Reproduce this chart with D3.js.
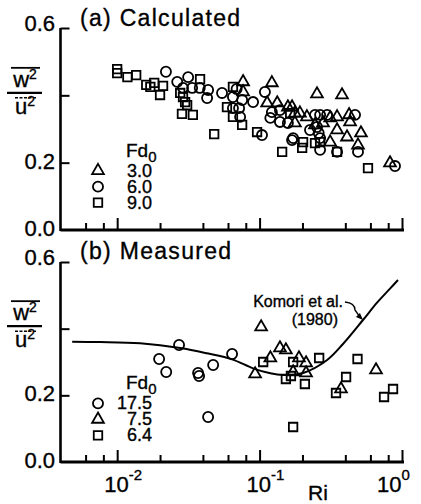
<!DOCTYPE html>
<html>
<head>
<meta charset="utf-8">
<script src="https://cdn.jsdelivr.net/npm/d3@7"></script>
<style>
    body { margin: 0; background: #fff; }
    svg { display: block; font-family: "Liberation Sans", Arial, sans-serif; }
    text { stroke: #000; stroke-width: 0.35px; }
</style>
</head>
<body>
<svg id="chart" width="421" height="504"></svg>
<script>
// ---- data (Ri, w2/u2) ----
const calcFd3 = [
    [0.0766, 0.44], [0.122, 0.437], [0.0766, 0.41], [0.113, 0.377], [0.133, 0.377],
    [0.158, 0.365], [0.169, 0.365], [0.177, 0.347], [0.192, 0.347], [0.215, 0.336],
    [0.177, 0.318], [0.245, 0.312], [0.279, 0.318], [0.313, 0.333], [0.35, 0.336],
    [0.425, 0.342], [0.432, 0.321], [0.35, 0.297], [0.411, 0.276], [0.515, 0.288],
    [0.491, 0.252], [0.313, 0.261], [0.253, 0.404], [0.379, 0.401], [0.824, 0.199]
];
const calcFd6 = [
    [0.022, 0.47], [0.0264, 0.44], [0.0315, 0.454], [0.029, 0.422], [0.0336, 0.422],
    [0.038, 0.422], [0.0428, 0.392], [0.0435, 0.416], [0.0545, 0.407], [0.065, 0.395],
    [0.0754, 0.386], [0.09, 0.38], [0.0718, 0.362], [0.065, 0.362], [0.069, 0.419],
    [0.073, 0.336], [0.109, 0.41], [0.122, 0.35], [0.139, 0.321], [0.119, 0.333],
    [0.104, 0.282], [0.169, 0.267], [0.139, 0.356], [0.158, 0.318], [0.245, 0.342],
    [0.266, 0.342], [0.298, 0.342], [0.468, 0.342], [0.253, 0.306], [0.266, 0.273],
    [0.26, 0.288], [0.266, 0.238], [0.35, 0.232], [0.491, 0.232], [0.172, 0.273],
    [0.226, 0.297], [0.893, 0.19]
];
const calcFd9 = [
    [0.01, 0.478], [0.01, 0.466], [0.0118, 0.454], [0.0136, 0.46], [0.016, 0.431],
    [0.0171, 0.425], [0.0182, 0.437], [0.02, 0.401], [0.021, 0.428], [0.0277, 0.407],
    [0.029, 0.395], [0.03, 0.38], [0.031, 0.371], [0.0285, 0.345], [0.034, 0.342],
    [0.0382, 0.448], [0.048, 0.285], [0.059, 0.365], [0.065, 0.425], [0.065, 0.336],
    [0.0754, 0.312], [0.096, 0.291], [0.144, 0.232], [0.164, 0.347], [0.199, 0.244],
    [0.202, 0.261], [0.245, 0.258], [0.266, 0.261], [0.35, 0.232], [0.577, 0.184]
];
const measFd175 = [
    [0.0197, 0.309], [0.0221, 0.27], [0.0272, 0.351], [0.037, 0.267], [0.0376, 0.258],
    [0.0472, 0.291], [0.0641, 0.324], [0.0435, 0.135]
];
const measFd75 = [
    [0.1025, 0.405], [0.093, 0.264], [0.119, 0.312], [0.139, 0.342], [0.153, 0.336],
    [0.189, 0.312], [0.212, 0.297], [0.172, 0.27], [0.212, 0.267], [0.373, 0.219],
    [0.657, 0.276]
];
const measFd64 = [
    [0.106, 0.3], [0.172, 0.3], [0.153, 0.249], [0.166, 0.258], [0.208, 0.234],
    [0.262, 0.312], [0.487, 0.309], [0.405, 0.255], [0.344, 0.207], [0.748, 0.195],
    [0.865, 0.219], [0.172, 0.105]
];
// Komori et al. (1980)
const komori = [
    [0.00483, 0.361], [0.0076, 0.36], [0.0145, 0.356], [0.0277, 0.342], [0.0428, 0.326],
    [0.0641, 0.308], [0.09, 0.281], [0.119, 0.266], [0.146, 0.261], [0.202, 0.267],
    [0.298, 0.306], [0.385, 0.354], [0.532, 0.426], [0.668, 0.478], [0.824, 0.52],
    [0.937, 0.546]
];
const komoriArrowAt = [0.532, 0.426];

// ticks
const majorRi = [0.01, 0.1, 1];
const majorExp = ['-2', '-1', '0'];
const minorRi = [0.006, 0.008, 0.02, 0.04, 0.06, 0.08, 0.2, 0.4, 0.6, 0.8];
const yTicks = [0.2, 0.4, 0.6];
const yLabels = [0.0, 0.2, 0.6];

const svg = d3.select('#chart');
const x = d3.scaleLog().domain([0.004, 1]).range([60.5, 402]);

const shapes = { tri: d3.symbolTriangle, circ: d3.symbolCircle, sq: d3.symbolSquare };
const sizes = { tri: 60, circ: 80, sq: 72 };
const sym = (k) => d3.symbol().type(shapes[k]).size(sizes[k])();

const drawMarks = (g, data, shape, y) => {
    g.selectAll(null)
        .data(data)
        .enter()
        .append('path')
        .attr('d', sym(shape))
        .attr('transform', (d) => `translate(${x(d[0])},${y(d[1])})`)
        .attr('fill', 'none')
        .attr('stroke', '#000')
        .attr('stroke-width', 1.8);
};

const drawPanel = (p) => {
    const y = d3.scaleLinear().domain([0, 0.6]).range(p.yRange);
    const g = svg.append('g');

    // x ticks (inward)
    const xt = (vals, len) => {
        g.append('g')
            .attr('transform', `translate(0,${y(0)})`)
            .call(d3.axisTop(x).tickValues(vals).tickSize(len).tickFormat(''))
            .call((a) => a.select('.domain').remove())
            .selectAll('line')
            .attr('stroke-width', 2);
    };
    xt(minorRi, 7);
    xt(majorRi, 12);

    // y ticks (inward)
    g.append('g')
        .attr('transform', `translate(${x(0.004)},0)`)
        .call(d3.axisRight(y).tickValues(yTicks).tickSize(9).tickFormat(''))
        .call((a) => a.select('.domain').remove())
        .selectAll('line')
        .attr('stroke-width', 2);

    // axis lines
    g.append('line')
        .attr('x1', x(0.004)).attr('x2', x(1) + 2)
        .attr('y1', y(0)).attr('y2', y(0))
        .attr('stroke', '#000').attr('stroke-width', 3);
    g.append('line')
        .attr('x1', x(0.004)).attr('x2', x(0.004))
        .attr('y1', y(0) + 1).attr('y2', y(0.6))
        .attr('stroke', '#000').attr('stroke-width', 2.6);

    // y labels
    g.selectAll('text.ylab')
        .data(yLabels)
        .enter()
        .append('text')
        .attr('class', 'ylab')
        .attr('x', 55)
        .attr('y', (d) => y(d) + (d === 0.6 ? 3 : 6))
        .attr('text-anchor', 'end')
        .style('font-size', '22px')
        .text((d) => d3.format('.1f')(d));

    // title
    g.append('text')
        .attr('x', 80)
        .attr('y', y(0.6) + p.titleDy)
        .style('font-size', '23px')
        .style('letter-spacing', '1.3px')
        .text(p.title);

    // y axis label: w2 over u2 with overbars
    const yf = y(0.4) - 2.5;
    g.append('line').attr('x1', 11).attr('x2', 40).attr('y1', yf - 25).attr('y2', yf - 25)
        .attr('stroke', '#000').attr('stroke-width', 1.8);
    const wt = g.append('text').attr('x', 25).attr('y', yf - 6).attr('text-anchor', 'middle')
        .style('font-size', '22px');
    wt.append('tspan').text('w');
    wt.append('tspan').attr('dy', -8).style('font-size', '14px').text('2');
    g.append('line').attr('x1', 7).attr('x2', 42).attr('y1', yf).attr('y2', yf)
        .attr('stroke', '#000').attr('stroke-width', 2.2);
    g.append('line').attr('x1', 15).attr('x2', 36).attr('y1', yf + 5).attr('y2', yf + 5)
        .attr('stroke', '#000').attr('stroke-width', 1.5).attr('stroke-dasharray', '3,1.5');
    const ut = g.append('text').attr('x', 25).attr('y', yf + 21).attr('text-anchor', 'middle')
        .style('font-size', '22px');
    ut.append('tspan').text('u');
    ut.append('tspan').attr('dy', -8).style('font-size', '14px').text('2');

    // data
    p.series.forEach((s) => drawMarks(g, s.data, s.shape, y));

    // legend
    const ly = y(0.2);
    const fd = g.append('text').attr('x', 126).attr('y', ly - 6).style('font-size', '19px');
    fd.append('tspan').text('Fd');
    fd.append('tspan').attr('dy', 5).style('font-size', '15px').text('0');
    p.series.forEach((s, i) => {
        g.append('path')
            .attr('d', sym(s.shape))
            .attr('transform', `translate(98,${ly + 8 + i * 16})`)
            .attr('fill', 'none')
            .attr('stroke', '#000')
            .attr('stroke-width', 1.8);
        g.append('text')
            .attr('x', 152)
            .attr('y', ly + 14 + i * 16)
            .attr('text-anchor', 'end')
            .style('font-size', '18px')
            .text(s.label);
    });

    return y;
};

// (a) Calculated
drawPanel({
    yRange: [230, 28],
    titleDy: -2,
    title: '(a) Calculated',
    series: [
        { data: calcFd3, shape: 'tri', label: '3.0' },
        { data: calcFd6, shape: 'circ', label: '6.0' },
        { data: calcFd9, shape: 'sq', label: '9.0' }
    ]
});

// (b) Measured
const yB = drawPanel({
    yRange: [462, 262],
    titleDy: -3,
    title: '(b) Measured',
    series: [
        { data: measFd175, shape: 'circ', label: '17.5' },
        { data: measFd75, shape: 'tri', label: '7.5' },
        { data: measFd64, shape: 'sq', label: '6.4' }
    ]
});

// Komori curve
const line = d3.line()
    .x((d) => x(d[0]))
    .y((d) => yB(d[1]))
    .curve(d3.curveCatmullRom.alpha(0.5));
svg.append('path')
    .datum(komori)
    .attr('fill', 'none')
    .attr('stroke', '#000')
    .attr('stroke-width', 2)
    .attr('d', line);

// annotation
const ax = x(komoriArrowAt[0]);
const ay = yB(komoriArrowAt[1]);
svg.append('path')
    .attr('d', `M${ax - 18},${ay - 18} Q${ax - 8},${ay - 17} ${ax - 8},${ay - 10} L${ax - 3},${ay - 3}`)
    .attr('fill', 'none')
    .attr('stroke', '#000')
    .attr('stroke-width', 1.3);
svg.append('path')
    .attr('d', `M${ax},${ay} L${ax - 7},${ay - 3} L${ax - 3},${ay - 7} Z`)
    .attr('fill', '#000');
svg.append('text')
    .attr('x', ax - 20)
    .attr('y', ay - 13)
    .attr('text-anchor', 'end')
    .style('font-size', '16px')
    .text('Komori et al.');
svg.append('text')
    .attr('x', ax - 25)
    .attr('y', ay + 5)
    .attr('text-anchor', 'end')
    .style('font-size', '16px')
    .text('(1980)');

// x tick labels
majorRi.forEach((v, i) => {
    const t = svg.append('text')
        .attr('x', x(v) + (i === 2 ? -25 : -13))
        .attr('y', 492)
        .style('font-size', '22px');
    t.append('tspan').text('10');
    t.append('tspan').attr('dy', -12).style('font-size', '15px').text(majorExp[i]);
});

// x axis title
svg.append('text')
    .attr('x', 308)
    .attr('y', 500)
    .style('font-size', '21px')
    .text('Ri');
</script>
</body>
</html>
